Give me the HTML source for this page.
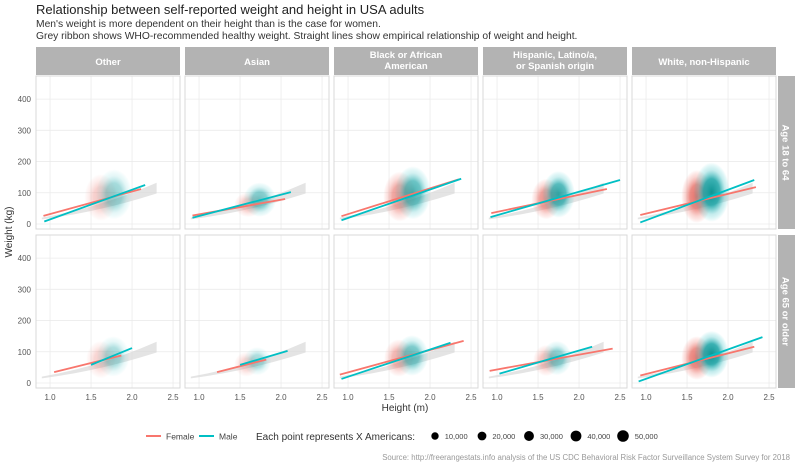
<!DOCTYPE html>
<html><head><meta charset="utf-8"><style>
body{margin:0;background:#fff}
svg{display:block;font-family:"Liberation Sans",sans-serif}
</style></head><body>
<svg id="c" width="800" height="467" viewBox="0 0 800 467" xmlns="http://www.w3.org/2000/svg">
<defs>
<radialGradient id="gf"><stop offset="0" stop-color="#e2716a" stop-opacity="1"/><stop offset="0.45" stop-color="#e97870" stop-opacity="0.85"/><stop offset="0.75" stop-color="#F08a82" stop-opacity="0.35"/><stop offset="1" stop-color="#F8766D" stop-opacity="0"/></radialGradient>
<radialGradient id="gm"><stop offset="0" stop-color="#0f9494" stop-opacity="1"/><stop offset="0.45" stop-color="#18a3a5" stop-opacity="0.85"/><stop offset="0.75" stop-color="#40c0c4" stop-opacity="0.3"/><stop offset="1" stop-color="#00BFC4" stop-opacity="0"/></radialGradient>
</defs>
<text x="36" y="14" font-size="13" fill="#222">Relationship between self-reported weight and height in USA adults</text>
<text x="36" y="27" font-size="10.3" fill="#333">Men's weight is more dependent on their height than is the case for women.</text>
<text x="36" y="39" font-size="10.3" fill="#333">Grey ribbon shows WHO-recommended healthy weight. Straight lines show empirical relationship of weight and height.</text>
<g id="panels"></g>
<text transform="translate(12,232) rotate(-90)" text-anchor="middle" font-size="10" fill="#333">Weight (kg)</text>
<text x="405" y="411" text-anchor="middle" font-size="10" fill="#333">Height (m)</text>
<g>
<line x1="146" y1="436" x2="161" y2="436" stroke="#F8766D" stroke-width="2"/>
<text x="166" y="439.5" font-size="8.5" fill="#444">Female</text>
<line x1="199" y1="436" x2="214" y2="436" stroke="#00BFC4" stroke-width="2"/>
<text x="219" y="439.5" font-size="8.5" fill="#444">Male</text>
<text x="256" y="440" font-size="10" fill="#333">Each point represents X Americans:</text>
<g id="sizeleg"></g>
</g>
<text x="790" y="460" text-anchor="end" font-size="7.8" fill="#999">Source: http://freerangestats.info analysis of the US CDC Behavioral Risk Factor Surveillance System Survey for 2018</text>
</svg>
<script>
const cols = ["Other","Asian","Black or African|American","Hispanic, Latino/a,|or Spanish origin","White, non-Hispanic"];
const rows = ["Age 18 to 64","Age 65 or older"];
const xTicks = [1.0,1.5,2.0,2.5];
const xTickLabels = ["1.0","1.5","2.0","2.5"];
const yTicks = [0,100,200,300,400];
const sizeLabels = ["10,000","20,000","30,000","40,000","50,000"];
const sizeValues = [10000,20000,30000,40000,50000];
const ribbonH = [0.9,1.1,1.3,1.5,1.7,1.9,2.1,2.3];
const bmiLow = 18.5, bmiHigh = 25;
// fitted lines: [row, col, sex, h1, w1, h2, w2]
const fitLines = [
 [0,0,"F",0.92,26,2.11,112],[0,0,"M",0.93,8,2.16,125],
 [0,1,"F",0.92,27,2.05,80],[0,1,"M",0.92,20,2.12,102],
 [0,2,"F",0.92,25,2.35,143],[0,2,"M",0.92,12,2.38,145],
 [0,3,"F",0.93,35,2.34,112],[0,3,"M",0.92,22,2.5,141],
 [0,4,"F",0.93,29,2.34,118],[0,4,"M",0.93,5,2.32,141],
 [1,0,"F",1.05,35,1.87,88],[1,0,"M",1.5,58,2.0,112],
 [1,1,"F",1.22,35,1.82,75],[1,1,"M",1.5,58,2.08,103],
 [1,2,"F",0.9,27,2.41,135],[1,2,"M",0.92,13,2.25,129],
 [1,3,"F",0.91,39,2.41,110],[1,3,"M",1.03,30,2.16,116],
 [1,4,"F",0.93,24,2.32,116],[1,4,"M",0.91,5,2.42,147]
];
// point clouds: [row, col, sex, centreH, centreW, spreadH, spreadW, density]
const clouds = [
 [0,0,"F",1.62,85,0.2,75,0.4],[0,0,"M",1.78,95,0.22,80,0.45],
 [0,1,"F",1.6,62,0.17,40,0.45],[0,1,"M",1.74,78,0.2,55,0.6],
 [0,2,"F",1.63,88,0.2,80,0.75],[0,2,"M",1.79,100,0.22,85,0.75],
 [0,3,"F",1.6,80,0.18,65,0.8],[0,3,"M",1.75,95,0.2,75,0.85],
 [0,4,"F",1.62,88,0.19,85,1],[0,4,"M",1.8,102,0.22,95,1],
 [1,0,"F",1.62,75,0.18,60,0.35],[1,0,"M",1.77,85,0.2,65,0.4],
 [1,1,"F",1.58,60,0.15,40,0.35],[1,1,"M",1.71,70,0.17,45,0.4],
 [1,2,"F",1.62,80,0.18,60,0.6],[1,2,"M",1.78,88,0.2,65,0.65],
 [1,3,"F",1.6,72,0.16,50,0.5],[1,3,"M",1.73,80,0.18,55,0.55],
 [1,4,"F",1.62,80,0.19,70,0.95],[1,4,"M",1.8,92,0.21,75,1]
];
const NS="http://www.w3.org/2000/svg";
const svg=document.getElementById('panels');
function mk(t,a,p){const e=document.createElementNS(NS,t);for(const k in a)e.setAttribute(k,a[k]);(p||svg).appendChild(e);return e;}
const colX=[36,185,334,483,632], pw=144;
const rowY=[76,235], ph=153;
const hMin=0.829, hMax=2.585;
const wMax=474, wMin=-16;
function sx(c,h){return colX[c]+(h-hMin)/(hMax-hMin)*pw;}
function sy(r,w){return rowY[r]+(wMax-w)/(wMax-wMin)*ph;}
for(let c=0;c<5;c++){
  const st=mk('g',{});
  
  
  mk('rect',{x:colX[c],y:47,width:pw,height:28,fill:'#b3b3b3'},st);
  const parts=cols[c].split('|');
  parts.forEach((p,i)=>{const t=mk('text',{x:colX[c]+pw/2,y:(parts.length==1?65:58)+i*11,'text-anchor':'middle','font-size':'9.5','font-weight':'bold',fill:'#fff'},st);t.textContent=p;});
}
for(let r=0;r<2;r++){
  const st=mk('g',{});
  
  
  mk('rect',{x:778,y:rowY[r],width:17,height:ph,fill:'#b3b3b3'},st);
  const t=mk('text',{transform:`translate(782.5,${rowY[r]+ph/2}) rotate(90)`,'text-anchor':'middle','font-size':'9.5','font-weight':'bold',fill:'#fff'},st);
  t.textContent=rows[r];
  const ax=mk('g',{});
  
  
  yTicks.forEach(v=>{const t=mk('text',{x:31,y:sy(r,v)+3,'text-anchor':'end','font-size':'8',fill:'#555'},ax);t.textContent=v;});
  for(let c=0;c<5;c++){
    const g=mk('g',{});
    
    
    const clip='cp'+r+c;
    const cp=mk('clipPath',{id:clip},g);mk('rect',{x:colX[c],y:rowY[r],width:pw,height:ph},cp);
    xTicks.forEach(v=>mk('line',{x1:sx(c,v),x2:sx(c,v),y1:rowY[r],y2:rowY[r]+ph,stroke:'#ebebeb','stroke-width':0.8},g));
    yTicks.forEach(v=>mk('line',{x1:colX[c],x2:colX[c]+pw,y1:sy(r,v),y2:sy(r,v),stroke:'#ebebeb','stroke-width':0.8},g));
    const inner=mk('g',{'clip-path':`url(#${clip})`},g);
    let pts=ribbonH.map(h=>sx(c,h)+','+sy(r,bmiHigh*h*h));
    pts=pts.concat(ribbonH.slice().reverse().map(h=>sx(c,h)+','+sy(r,bmiLow*h*h)));
    const rb=mk('polygon',{points:pts.join(' '),fill:'#d9d9d9','fill-opacity':0.7},inner);
    
    
    clouds.filter(d=>d[0]==r&&d[1]==c).forEach(d=>{
      const cx=sx(c,d[3]),cy=sy(r,d[4]),rx=d[5]/(hMax-hMin)*pw,ry=d[6]/(wMax-wMin)*ph;
      const e=mk('ellipse',{cx:cx,cy:cy,rx:rx,ry:ry,fill:d[2]=='F'?'url(#gf)':'url(#gm)',opacity:d[7]},inner);
      
      
    });
    fitLines.filter(d=>d[0]==r&&d[1]==c).forEach(d=>{
      const l=mk('line',{x1:sx(c,d[3]),y1:sy(r,d[4]),x2:sx(c,d[5]),y2:sy(r,d[6]),stroke:d[2]=='F'?'#F8766D':'#00BFC4','stroke-width':1.8},inner);
      
      
    });
    mk('rect',{x:colX[c],y:rowY[r],width:pw,height:ph,fill:'none',stroke:'#d9d9d9','stroke-width':1},g);
    if(r==1){
      const xa=mk('g',{});
      
      
      xTicks.forEach((v,i)=>{const t=mk('text',{x:sx(c,v),y:400,'text-anchor':'middle','font-size':'8',fill:'#555'},xa);t.textContent=xTickLabels[i];});
    }
  }
}
const sl=document.getElementById('sizeleg');
let x=435;
sizeValues.forEach((v,i)=>{
  const rad=2+Math.sqrt(v/10000)*1.7;
  const c=mk('circle',{cx:x,cy:436,r:rad,fill:'#000'},sl);
  
  
  const t=mk('text',{x:x+rad+6,y:439,'font-size':'7.5',fill:'#444'},sl);
  t.textContent=sizeLabels[i];
  x+=47;
});
</script>
</body></html>
